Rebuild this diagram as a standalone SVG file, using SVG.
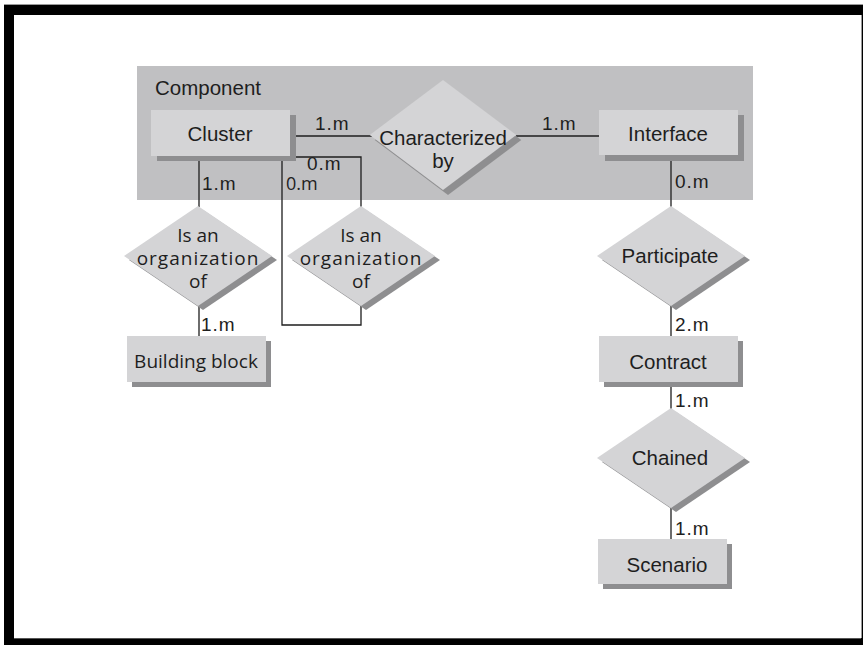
<svg xmlns="http://www.w3.org/2000/svg" width="863" height="645" viewBox="0 0 863 645">
  <style>
    .frame-line { stroke: #9a9a9a; stroke-width: 1; }
    .area { fill: #c0c0c2; }
    .box { fill: #d4d4d6; }
    .shadow { fill: #8e8e90; }
    .lbl { font-family: "Liberation Sans", Arial, sans-serif; font-size: 20.5px; fill: #1e1e1e; text-anchor: middle; }
    .hum { font-family: "Open Sans", "Noto Sans", sans-serif; font-size: 19px; fill: #1e1e1e; text-anchor: middle; }
    .card { font-family: "Liberation Sans", Arial, sans-serif; font-size: 19px; fill: #1e1e1e; letter-spacing: 1px; }
    .card-h { font-family: "Open Sans", "Noto Sans", sans-serif; font-size: 18px; fill: #1e1e1e; }
    .conn { fill: none; stroke: #1e1e1e; stroke-width: 1.3; }
  </style>
  <defs>
    <!-- diamond centred on the origin, used for every relationship node -->
    <polygon id="dia" points="0,-50 74,0 0,50 -74,0"/>
  </defs>

  <!-- page frame -->
  <rect x="4" y="5" width="859" height="640" fill="#000"/>
  <rect x="14" y="15" width="847" height="623" fill="#fff"/>
  <line class="frame-line" x1="4" y1="4.5" x2="863" y2="4.5"/>
  <line class="frame-line" x1="861.5" y1="15" x2="861.5" y2="638"/>
  <line x1="14" y1="638.5" x2="861" y2="638.5" stroke="#555" stroke-width="1"/>

  <!-- Component grouping area -->
  <g id="component">
    <rect class="area" x="137" y="66" width="616" height="134"/>
    <text class="lbl" x="155" y="95" style="text-anchor:start">Component</text>
  </g>

  <!-- connectors -->
  <g id="connectors">
    <path class="conn" d="M290,136 H372"/>
    <path class="conn" d="M516,136 H599"/>
    <path class="conn" d="M290,157 H361 V207"/>
    <path class="conn" d="M282,156 V325 H361 V305"/>
    <path class="conn" d="M199,156 V207"/>
    <path class="conn" d="M199,305 V336"/>
    <path class="conn" d="M671,155 V207"/>
    <path class="conn" d="M671,305 V336"/>
    <path class="conn" d="M671,382 V409"/>
    <path class="conn" d="M671,507 V539"/>

    <text class="card" x="315" y="130">1.m</text>
    <text class="card" x="542" y="130">1.m</text>
    <text class="card" x="307" y="170">0.m</text>
    <text class="card-h" x="286" y="190">0.m</text>
    <text class="card" x="202" y="190">1.m</text>
    <text class="card" x="201" y="331">1.m</text>
    <text class="card" x="675" y="188">0.m</text>
    <text class="card" x="675" y="331">2.m</text>
    <text class="card" x="675" y="407">1.m</text>
    <text class="card" x="675" y="535">1.m</text>
  </g>

  <!-- entity nodes -->
  <g id="cluster">
    <rect class="shadow" x="157" y="115" width="139" height="46"/>
    <rect class="box" x="151" y="110" width="139" height="46"/>
    <text class="lbl" x="220" y="141">Cluster</text>
  </g>
  <g id="interface">
    <rect class="shadow" x="605" y="115" width="139" height="46"/>
    <rect class="box" x="599" y="110" width="139" height="45"/>
    <text class="lbl" x="668" y="141">Interface</text>
  </g>
  <g id="building-block">
    <rect class="shadow" x="132" y="341" width="139" height="46"/>
    <rect class="box" x="127" y="336" width="139" height="46"/>
    <text class="hum" x="196" y="368">Building block</text>
  </g>
  <g id="contract">
    <rect class="shadow" x="604" y="341" width="139" height="46"/>
    <rect class="box" x="599" y="336" width="139" height="46"/>
    <text class="lbl" x="668" y="369">Contract</text>
  </g>
  <g id="scenario">
    <rect class="shadow" x="603" y="544" width="129" height="45"/>
    <rect class="box" x="598" y="539" width="129" height="45"/>
    <text class="lbl" x="667" y="572">Scenario</text>
  </g>

  <!-- relationship nodes -->
  <g id="characterized-by">
    <use href="#dia" class="shadow" transform="translate(448,140) scale(0.99,1.1)"/>
    <use href="#dia" class="box" transform="translate(443,135) scale(0.99,1.1)"/>
    <text class="lbl" x="443" y="145">Characterized</text>
    <text class="lbl" x="443" y="168">by</text>
  </g>
  <g id="organization-bb">
    <use href="#dia" class="shadow" transform="translate(203,260)"/>
    <use href="#dia" class="box" transform="translate(198,256)"/>
    <text class="hum" x="198" y="242">Is an</text>
    <text class="hum" x="198" y="265" letter-spacing="1">organization</text>
    <text class="hum" x="198" y="288">of</text>
  </g>
  <g id="organization-cluster">
    <use href="#dia" class="shadow" transform="translate(366,260)"/>
    <use href="#dia" class="box" transform="translate(361,256)"/>
    <text class="hum" x="361" y="242">Is an</text>
    <text class="hum" x="361" y="265" letter-spacing="1">organization</text>
    <text class="hum" x="361" y="288">of</text>
  </g>
  <g id="participate">
    <use href="#dia" class="shadow" transform="translate(676,260)"/>
    <use href="#dia" class="box" transform="translate(671,256)"/>
    <text class="lbl" x="670" y="263">Participate</text>
  </g>
  <g id="chained">
    <use href="#dia" class="shadow" transform="translate(676,462)"/>
    <use href="#dia" class="box" transform="translate(671,458)"/>
    <text class="lbl" x="670" y="465">Chained</text>
  </g>
</svg>
